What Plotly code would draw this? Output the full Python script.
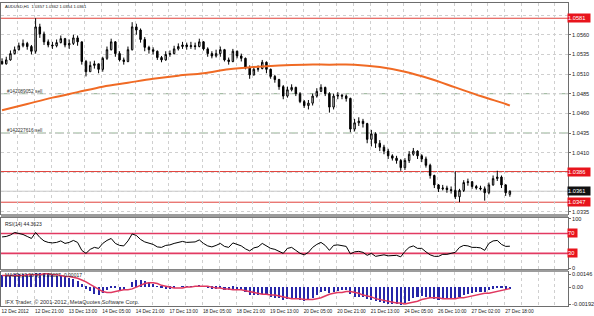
import plotly.graph_objects as go

# ---------------- data (2-hour bars) ----------------
opens = [1.0526, 1.0523, 1.0528, 1.0536, 1.0541, 1.0546, 1.0549, 1.0545, 1.0539, 1.0570,
         1.0561, 1.0551, 1.0547, 1.0546, 1.0550, 1.0555, 1.0547, 1.0549, 1.0556, 1.0551,
         1.0526, 1.0513, 1.0521, 1.0523, 1.0516, 1.0530, 1.0541, 1.0551, 1.0536, 1.0528,
         1.0526, 1.0541, 1.0570, 1.0566, 1.0554, 1.0544, 1.0541, 1.0539, 1.0531, 1.0528,
         1.0535, 1.0536, 1.0542, 1.0545, 1.0547, 1.0545, 1.0546, 1.0545, 1.0551, 1.0542,
         1.0536, 1.0533, 1.0536, 1.0541, 1.0528, 1.0526, 1.0539, 1.0533, 1.0530, 1.0518,
         1.0509, 1.0516, 1.0517, 1.0525, 1.0516, 1.0507, 1.0503, 1.0494, 1.0482, 1.0490,
         1.0493, 1.0485, 1.0475, 1.0470, 1.0473, 1.0482, 1.0488, 1.0493, 1.0485, 1.0468,
         1.0482, 1.0483, 1.0482, 1.0479, 1.0440, 1.0448, 1.0450, 1.0447, 1.0427, 1.0434,
         1.0422, 1.0417, 1.0412, 1.0406, 1.0403, 1.0400, 1.0391, 1.0400, 1.0408, 1.0412,
         1.0406, 1.0402, 1.0394, 1.0381, 1.0369, 1.0364, 1.0365, 1.0363, 1.0362, 1.0354,
         1.0362, 1.0372, 1.0373, 1.0367, 1.0365, 1.0364, 1.0359, 1.0369, 1.0377, 1.0379,
         1.0369, 1.0357]
highs = [1.0530, 1.0532, 1.0540, 1.0545, 1.0550, 1.0554, 1.0551, 1.0547, 1.0581, 1.0574,
         1.0564, 1.0554, 1.0551, 1.0554, 1.0559, 1.0556, 1.0554, 1.0560, 1.0559, 1.0551,
         1.0528, 1.0526, 1.0527, 1.0523, 1.0532, 1.0545, 1.0555, 1.0552, 1.0539, 1.0531,
         1.0545, 1.0576, 1.0574, 1.0568, 1.0557, 1.0546, 1.0544, 1.0540, 1.0533, 1.0539,
         1.0540, 1.0546, 1.0549, 1.0551, 1.0550, 1.0551, 1.0550, 1.0555, 1.0552, 1.0544,
         1.0539, 1.0541, 1.0545, 1.0542, 1.0531, 1.0542, 1.0540, 1.0536, 1.0531, 1.0521,
         1.0520, 1.0521, 1.0528, 1.0526, 1.0517, 1.0509, 1.0504, 1.0496, 1.0494, 1.0497,
         1.0494, 1.0487, 1.0477, 1.0477, 1.0485, 1.0492, 1.0497, 1.0494, 1.0487, 1.0485,
         1.0487, 1.0485, 1.0484, 1.0480, 1.0453, 1.0455, 1.0453, 1.0448, 1.0439, 1.0436,
         1.0426, 1.0420, 1.0415, 1.0408, 1.0406, 1.0402, 1.0403, 1.0412, 1.0416, 1.0413,
         1.0408, 1.0405, 1.0396, 1.0382, 1.0370, 1.0369, 1.0368, 1.0367, 1.0386, 1.0364,
         1.0375, 1.0377, 1.0374, 1.0369, 1.0368, 1.0367, 1.0372, 1.0381, 1.0387, 1.0381,
         1.0370, 1.0362]
lows = [1.0522, 1.0522, 1.0527, 1.0535, 1.0540, 1.0544, 1.0541, 1.0535, 1.0536, 1.0556,
        1.0547, 1.0544, 1.0542, 1.0544, 1.0549, 1.0544, 1.0542, 1.0547, 1.0546, 1.0522,
        1.0507, 1.0513, 1.0517, 1.0511, 1.0513, 1.0528, 1.0540, 1.0532, 1.0526, 1.0522,
        1.0525, 1.0540, 1.0560, 1.0550, 1.0539, 1.0536, 1.0535, 1.0528, 1.0525, 1.0527,
        1.0532, 1.0535, 1.0540, 1.0542, 1.0541, 1.0542, 1.0541, 1.0544, 1.0540, 1.0532,
        1.0530, 1.0531, 1.0532, 1.0526, 1.0522, 1.0525, 1.0530, 1.0526, 1.0516, 1.0504,
        1.0508, 1.0513, 1.0516, 1.0511, 1.0504, 1.0499, 1.0490, 1.0478, 1.0480, 1.0488,
        1.0482, 1.0473, 1.0467, 1.0465, 1.0470, 1.0480, 1.0487, 1.0482, 1.0461, 1.0465,
        1.0478, 1.0478, 1.0475, 1.0436, 1.0437, 1.0444, 1.0442, 1.0422, 1.0418, 1.0416,
        1.0412, 1.0408, 1.0402, 1.0400, 1.0396, 1.0387, 1.0388, 1.0397, 1.0406, 1.0402,
        1.0398, 1.0391, 1.0377, 1.0365, 1.0360, 1.0362, 1.0359, 1.0358, 1.0351, 1.0347,
        1.0360, 1.0368, 1.0364, 1.0363, 1.0362, 1.0349, 1.0357, 1.0368, 1.0374, 1.0365,
        1.0355, 1.0354]
closes = [1.0523, 1.0528, 1.0536, 1.0541, 1.0546, 1.0549, 1.0545, 1.0539, 1.0570, 1.0561,
          1.0551, 1.0547, 1.0546, 1.0550, 1.0555, 1.0547, 1.0549, 1.0556, 1.0551, 1.0526,
          1.0513, 1.0521, 1.0523, 1.0516, 1.0530, 1.0541, 1.0551, 1.0536, 1.0528, 1.0526,
          1.0541, 1.0570, 1.0566, 1.0554, 1.0544, 1.0541, 1.0539, 1.0531, 1.0528, 1.0535,
          1.0536, 1.0542, 1.0545, 1.0547, 1.0545, 1.0546, 1.0545, 1.0551, 1.0542, 1.0536,
          1.0533, 1.0536, 1.0541, 1.0528, 1.0526, 1.0539, 1.0533, 1.0530, 1.0518, 1.0509,
          1.0516, 1.0517, 1.0525, 1.0516, 1.0507, 1.0503, 1.0494, 1.0482, 1.0490, 1.0493,
          1.0485, 1.0475, 1.0470, 1.0473, 1.0482, 1.0488, 1.0493, 1.0485, 1.0468, 1.0482,
          1.0483, 1.0482, 1.0479, 1.0440, 1.0448, 1.0450, 1.0447, 1.0427, 1.0434, 1.0422,
          1.0417, 1.0412, 1.0406, 1.0403, 1.0400, 1.0391, 1.0400, 1.0408, 1.0412, 1.0406,
          1.0402, 1.0394, 1.0381, 1.0369, 1.0364, 1.0365, 1.0363, 1.0362, 1.0354, 1.0362,
          1.0372, 1.0373, 1.0367, 1.0365, 1.0364, 1.0359, 1.0369, 1.0377, 1.0379, 1.0369,
          1.0359, 1.0361]

# moving average (orange), sampled every 6 bars
ma_bars = [0, 6, 12, 18, 24, 30, 36, 42, 48, 54, 60, 66, 72, 78, 84, 90, 96, 102, 108, 114, 120, 121]
ma_vals = [1.0464, 1.0472, 1.0480, 1.0487, 1.0494, 1.0499, 1.0504, 1.0508, 1.0511, 1.0516, 1.0519,
           1.0521, 1.0522, 1.0522, 1.0522, 1.0519, 1.0513, 1.0504, 1.0493, 1.0482, 1.0472, 1.0470]

rsi = [63, 64, 67, 72, 70, 68, 64, 60, 72, 62,
       55, 52, 51, 52, 55, 50, 52, 56, 52, 36,
       30, 38, 42, 40, 50, 56, 60, 50, 46, 45,
       55, 69, 66, 58, 53, 51, 48, 43, 42, 46,
       47, 50, 52, 54, 52, 53, 53, 57, 50, 45,
       43, 46, 50, 44, 42, 51, 48, 45, 39, 35,
       41, 43, 50, 45, 40, 38, 34, 30, 40, 42,
       36, 30, 27, 32, 42, 48, 52, 46, 36, 46,
       47, 46, 44, 29, 33, 34, 32, 26, 30, 24,
       26, 27, 25, 26, 26, 23, 34, 42, 45, 40,
       40, 33, 27, 24, 24, 28, 28, 30, 32, 42,
       46, 45, 42, 42, 41, 36, 50, 55, 56, 48,
       44, 44.36]

macd_main = [0.0013, 0.0013, 0.0013, 0.0014, 0.0014, 0.0014, 0.0014, 0.0013, 0.0016, 0.0016,
             0.0015, 0.0014, 0.0013, 0.0012, 0.0012, 0.0011, 0.0010, 0.0009, 0.0007, 0.0003,
             -0.0002, -0.0005, -0.0008, -0.0009, -0.0007, -0.0004, -0.0001, -0.0001, -0.0003, -0.0003,
             0.0000, 0.0005, 0.0008, 0.0008, 0.0007, 0.0005, 0.0003, 0.0001, -0.0001, -0.0002,
             -0.0002, -0.0001, 0.0000, 0.0001, 0.0001, 0.0001, 0.0001, 0.0002, 0.0001, -0.0001,
             -0.0002, -0.0002, -0.0001, -0.0003, -0.0004, -0.0002, -0.0003, -0.0004, -0.0006, -0.0009,
             -0.0009, -0.0009, -0.0008, -0.0009, -0.0011, -0.0012, -0.0013, -0.0015, -0.0014, -0.0013,
             -0.0013, -0.0015, -0.0016, -0.0015, -0.0012, -0.0009, -0.0006, -0.0005, -0.0007, -0.0006,
             -0.0005, -0.0004, -0.0004, -0.0008, -0.0011, -0.0011, -0.0011, -0.0014, -0.0015, -0.0016,
             -0.0017, -0.0018, -0.0019, -0.0019, -0.0019, -0.0020, -0.0018, -0.0016, -0.0013, -0.0011,
             -0.0010, -0.0011, -0.0013, -0.0014, -0.0015, -0.0014, -0.0013, -0.0012, -0.0012, -0.0011,
             -0.0009, -0.0008, -0.0007, -0.0006, -0.0006, -0.0006, -0.0004, -0.0002, -0.0001, -0.0001,
             -0.0002, -0.00027]
macd_signal = [0.0013, 0.0013, 0.0013, 0.0013, 0.0013, 0.0013, 0.0014, 0.0014, 0.0014, 0.0014,
               0.0015, 0.0015, 0.0014, 0.0014, 0.0013, 0.0012, 0.0012, 0.0011, 0.0010, 0.0008,
               0.0006, 0.0003, 0.0000, -0.0003, -0.0005, -0.0006, -0.0006, -0.0005, -0.0004, -0.0003,
               -0.0003, -0.0002, 0.0000, 0.0002, 0.0004, 0.0005, 0.0005, 0.0004, 0.0002, 0.0001,
               0.0000, -0.0001, -0.0001, -0.0001, 0.0000, 0.0000, 0.0001, 0.0001, 0.0001, 0.0001,
               0.0000, -0.0001, -0.0001, -0.0002, -0.0002, -0.0003, -0.0003, -0.0003, -0.0004, -0.0005,
               -0.0006, -0.0007, -0.0008, -0.0008, -0.0009, -0.0009, -0.0010, -0.0011, -0.0012, -0.0013,
               -0.0013, -0.0013, -0.0014, -0.0014, -0.0014, -0.0013, -0.0012, -0.0010, -0.0008, -0.0007,
               -0.0006, -0.0006, -0.0005, -0.0005, -0.0006, -0.0007, -0.0009, -0.0010, -0.0011, -0.0013,
               -0.0014, -0.0015, -0.0016, -0.0017, -0.0018, -0.0018, -0.0019, -0.0018, -0.0017, -0.0016,
               -0.0014, -0.0013, -0.0012, -0.0012, -0.0012, -0.0013, -0.0013, -0.0013, -0.0013, -0.0012,
               -0.0012, -0.0011, -0.0010, -0.0009, -0.0008, -0.0007, -0.0007, -0.0006, -0.0005, -0.0004,
               -0.0003, -0.00017]

time_labels = ["12 Dec 2012", "12 Dec 21:00", "13 Dec 13:00", "14 Dec 05:00", "14 Dec 21:00",
               "17 Dec 13:00", "18 Dec 05:00", "18 Dec 21:00", "19 Dec 13:00", "20 Dec 05:00",
               "20 Dec 21:00", "21 Dec 13:00", "24 Dec 05:00", "26 Dec 10:00", "27 Dec 02:00",
               "27 Dec 18:00"]

price_ticks = [1.0335, 1.0360, 1.0385, 1.0410, 1.0435, 1.0460, 1.0485, 1.0510, 1.0535, 1.0560, 1.0585]
level_high = 1.0581
level_mid = 1.0386
level_low = 1.0347
bid = 1.0361
orders = [("#142089052 sell", 1.0485), ("#142227616 sell", 1.0435)]
header = "AUDUSD,H1  1.0357 1.0362 1.0354 1.0361"

# ---------------- figure ----------------
HOURS_PER_BAR = 2
bar_x = [HOURS_PER_BAR * i + 0.5 for i in range(len(closes))]
ma_x = [HOURS_PER_BAR * b + 0.5 for b in ma_bars]

FONT = "Liberation Sans"
RED = "#e0403a"
BOXRED = "#e8141c"
GRID = "#cfcfcf"
AXC = "#6e6e6e"

fig = go.Figure()

fig.add_trace(go.Candlestick(
    x=bar_x, open=opens, high=highs, low=lows, close=closes,
    increasing=dict(line=dict(color="black", width=1), fillcolor="white"),
    decreasing=dict(line=dict(color="black", width=1), fillcolor="black"),
    whiskerwidth=0, hoverinfo="skip", showlegend=False, xaxis="x", yaxis="y"))

fig.add_trace(go.Scatter(x=ma_x, y=ma_vals, mode="lines", line=dict(color="#f06a24", width=2, shape="spline"),
                         hoverinfo="skip", showlegend=False, xaxis="x", yaxis="y"))

fig.add_trace(go.Scatter(x=bar_x, y=rsi, mode="lines", line=dict(color="black", width=1),
                         hoverinfo="skip", showlegend=False, xaxis="x", yaxis="y2"))

fig.add_trace(go.Bar(x=bar_x, y=macd_main, width=1.0, marker=dict(color="#2626a8", line=dict(width=0)),
                     hoverinfo="skip", showlegend=False, xaxis="x", yaxis="y3"))
fig.add_trace(go.Scatter(x=bar_x, y=macd_signal, mode="lines", line=dict(color="#e03860", width=1.5),
                         hoverinfo="skip", showlegend=False, xaxis="x", yaxis="y3"))

shapes = []
for lvl, col in [(level_high, RED), (level_mid, RED), (level_low, RED)]:
    shapes.append(dict(type="line", xref="x domain", yref="y", x0=0, x1=1, y0=lvl, y1=lvl,
                       line=dict(color=col, width=1), layer="below"))
shapes.append(dict(type="line", xref="x domain", yref="y", x0=0, x1=1, y0=bid, y1=bid,
                   line=dict(color="#c8c8c8", width=1), layer="below"))
for _, lvl in orders:
    shapes.append(dict(type="line", xref="x domain", yref="y", x0=0, x1=1, y0=lvl, y1=lvl,
                       line=dict(color="#8fae8f", width=1, dash="dashdot"), layer="below"))
for lvl in (70, 30):
    shapes.append(dict(type="line", xref="x domain", yref="y2", x0=0, x1=1, y0=lvl, y1=lvl,
                       line=dict(color="#e23a62", width=1.6), layer="below"))

PH = 316 - 10  # plot height in px (t=0, b=10)
def py(px):
    return 1 - px / PH

# panel separators
shapes.append(dict(type="rect", xref="paper", yref="paper", x0=0, x1=1, y0=py(216.6), y1=py(213.4),
                   fillcolor="#9c9c9c", line=dict(width=0)))
shapes.append(dict(type="rect", xref="paper", yref="paper", x0=0, x1=1, y0=py(271.8), y1=py(269.2),
                   fillcolor="#9c9c9c", line=dict(width=0)))
shapes.append(dict(type="line", xref="paper", yref="paper", x0=0, x1=1, y0=py(0.5), y1=py(0.5),
                   line=dict(color=AXC, width=1)))

ann = []
def box(text, y, yref, color, width=22):
    ann.append(dict(text=text, xref="paper", x=1, xanchor="left", xshift=-1, yref=yref, y=y,
                    yanchor="middle", showarrow=False, bgcolor=color, width=width, height=8,
                    align="left", borderpad=0, font=dict(family=FONT, size=5.7, color="white")))

box(f"{level_high:.4f}", level_high, "y", BOXRED)
box(f"{level_mid:.4f}", level_mid, "y", BOXRED)
box(f"{bid:.4f}", bid, "y", "#111111")
box(f"{level_low:.4f}", level_low, "y", BOXRED)
box("70", 70, "y2", BOXRED, width=9)
box("30", 30, "y2", BOXRED, width=9)

ann.append(dict(text=header, xref="paper", x=0, xanchor="left", xshift=2, yref="paper", y=py(5),
                yanchor="middle", showarrow=False, font=dict(family=FONT, size=4.2, color="#111")))
for txt, lvl in orders:
    ann.append(dict(text=txt, xref="paper", x=0, xanchor="left", xshift=4, yref="y", y=lvl,
                    yanchor="bottom", yshift=-2, showarrow=False, font=dict(family=FONT, size=4.8, color="#333")))
ann.append(dict(text="RSI(14) 44.3623", xref="paper", x=0, xanchor="left", xshift=2, yref="paper", y=py(223),
                yanchor="middle", showarrow=False, font=dict(family=FONT, size=5, color="#222")))
ann.append(dict(text="MACD(12,26,9) -0.00027 -0.00017", xref="paper", x=0, xanchor="left", xshift=2,
                yref="paper", y=py(275), yanchor="middle", showarrow=False,
                font=dict(family=FONT, size=5, color="#222")))
ann.append(dict(text="IFX Trader, \u00a9 2001-2012, MetaQuotes Software Corp.", xref="paper", x=0,
                xanchor="left", xshift=2, yref="paper", y=py(302), yanchor="middle", showarrow=False,
                font=dict(family=FONT, size=5.6, color="#333")))

tickvals_x = [8 * k for k in range(34)]
ticktext_x = [time_labels[k // 2] if (k % 2 == 0 and k // 2 < len(time_labels)) else "" for k in range(34)]

# price tick labels hidden where the level boxes cover them
covered = {1.0585, 1.0385, 1.0360}
price_text = ["" if v in covered else f"{v:.4f}" for v in price_ticks]

common_y = dict(side="right", showline=True, mirror=True, linecolor=AXC, linewidth=1,
                ticks="outside", ticklen=2, tickcolor=AXC, zeroline=False, fixedrange=True,
                tickfont=dict(family=FONT, size=5.6, color="#222"))

fig.update_layout(
    width=594, height=316, margin=dict(l=1, r=20, t=0, b=10),
    paper_bgcolor="white", plot_bgcolor="white", showlegend=False, bargap=0, boxgap=0.5,
    xaxis=dict(anchor="y3", range=[0, 270.2], tickmode="array", tickvals=tickvals_x, ticktext=ticktext_x,
               tickangle=0, ticklabelposition="outside right", ticks="", showgrid=True, gridcolor=GRID,
               griddash="dot", gridwidth=1, showline=True, mirror="all", linecolor=AXC, linewidth=1,
               zeroline=False, rangeslider=dict(visible=False), automargin=False,
               tickfont=dict(family=FONT, size=4.8, color="#222")),
    yaxis=dict(domain=[py(213), py(1)], range=[1.03325, 1.06004], anchor="x", tickmode="array",
               tickvals=price_ticks, ticktext=price_text, showgrid=True,
               gridcolor=GRID, griddash="dot", **common_y),
    yaxis2=dict(domain=[py(269), py(217)], range=[-2, 102], anchor="x", tickmode="array",
                tickvals=[0, 30, 70, 100], ticktext=["0", "", "", "100"], showgrid=False, **common_y),
    yaxis3=dict(domain=[0, py(272)], range=[-0.00213, 0.00168], anchor="x", tickmode="array",
                tickvals=[-0.00192, 0, 0.00146], ticktext=["-0.00192", "0.00", "0.00146"],
                showgrid=False, **common_y),
    shapes=shapes, annotations=ann,
)

fig.write_html("out.html")
